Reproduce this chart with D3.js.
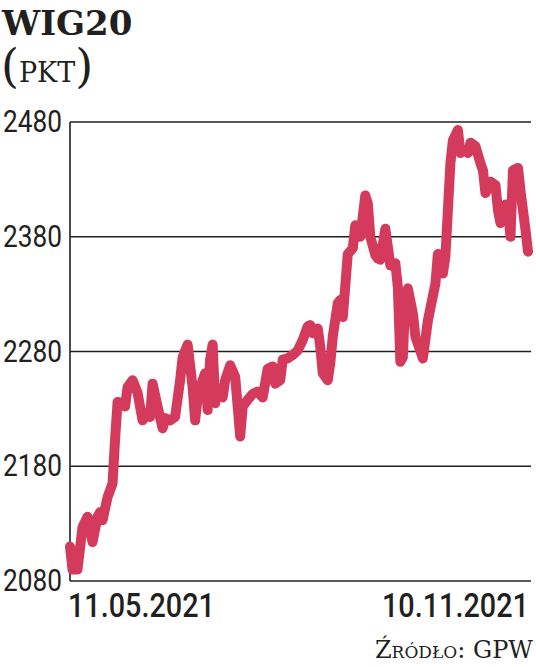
<!DOCTYPE html>
<html>
<head>
<meta charset="utf-8">
<script src="https://cdn.jsdelivr.net/npm/d3@7"></script>
<style>
  html, body { margin: 0; padding: 0; background: #fff; }
  svg { display: block; }
</style>
</head>
<body>
<svg id="chart" width="536" height="667"></svg>
<script>
// ---- data ----
const startDate = "2021-05-11";
const endDate = "2021-11-10";
// day offsets from start date
const days = [0,1,3,5,7,9,11,12,13,15,17,18,19,21,22,23,25,27,29,31,32,33,35,37,38,40,42,44,45,47,49,50,51,53,54,55,56,57,58,59,61,62,64,66,68,69,71,73,75,77,79,81,82,84,85,87,89,91,93,95,96,97,99,100,101,103,104,105,107,108,109,111,113,114,116,118,119,120,122,123,124,126,127,128,130,131,132,133,134,135,137,138,141,143,146,147,149,150,152,153,155,156,157,159,160,162,164,165,166,168,170,171,172,174,175,176,177,179,180,182,183];
const values = [2110,2090,2090,2127,2136,2114,2136,2140,2133,2153,2165,2203,2236,2235,2232,2249,2255,2244,2220,2227,2223,2252,2232,2213,2222,2220,2223,2255,2275,2286,2249,2220,2240,2255,2261,2229,2273,2286,2235,2249,2240,2255,2268,2258,2206,2232,2238,2243,2245,2240,2265,2267,2252,2255,2273,2274,2277,2281,2290,2302,2303,2296,2300,2284,2261,2255,2270,2293,2322,2325,2310,2365,2370,2390,2380,2416,2409,2380,2364,2361,2360,2387,2371,2355,2357,2336,2271,2275,2328,2335,2313,2293,2274,2307,2339,2365,2348,2363,2444,2464,2473,2453,2456,2453,2462,2459,2444,2438,2418,2428,2425,2403,2392,2408,2403,2380,2438,2440,2420,2386,2367];
const yTicks = [2080, 2180, 2280, 2380, 2480];
const xLabels = ["11.05.2021", "10.11.2021"];
const title = "WIG20";
const unit = "PKT";
const source = "Źródło: GPW";

// ---- layout ----
const svg = d3.select("#chart");
const plotLeft = 70, plotRight = 531, plotTop = 122, plotBottom = 581;
const lineRight = 528;

const parse = d3.utcParse("%Y-%m-%d");
const t0 = parse(startDate), t1 = parse(endDate);
const data = days.map((d, i) => ({ date: d3.utcDay.offset(t0, d), value: values[i] }));

const x = d3.scaleUtc().domain([t0, t1]).range([plotLeft, lineRight]);
const y = d3.scaleLinear().domain([2080, 2480]).range([plotBottom, plotTop]);

const ink = "#231f20";
const numFont = "Roboto, 'DejaVu Sans', sans-serif";
const serif = "'DejaVu Serif', 'Liberation Serif', serif";

// squeeze a text horizontally to a given width, anchored at its start (x0)
function condensed(g, str, x0, y0, width, size, weight) {
  const t = g.append("text")
    .attr("font-family", numFont)
    .attr("font-size", size)
    .attr("font-weight", weight)
    .attr("fill", ink)
    .text(str);
  const w = t.node().getComputedTextLength();
  t.attr("transform", `translate(${x0},${y0}) scale(${width / w},1)`);
  return t;
}

// gridlines
svg.append("g")
  .selectAll("line")
  .data(yTicks)
  .join("line")
  .attr("x1", plotLeft).attr("x2", plotRight)
  .attr("y1", d => y(d)).attr("y2", d => y(d))
  .attr("stroke", ink).attr("stroke-width", 1.6);

// left axis line
svg.append("line")
  .attr("x1", plotLeft).attr("x2", plotLeft)
  .attr("y1", y(2480)).attr("y2", y(2080))
  .attr("stroke", ink).attr("stroke-width", 1.6);

// y tick labels
const tickG = svg.append("g");
yTicks.forEach(v => condensed(tickG, String(v), 3, y(v) + 10, 59, 32, 400));

// the line
const line = d3.line().x(d => x(d.date)).y(d => y(d.value));
svg.append("path")
  .datum(data)
  .attr("d", line)
  .attr("fill", "none")
  .attr("stroke", "#d43a5c")
  .attr("stroke-width", 10)
  .attr("stroke-linejoin", "round")
  .attr("stroke-linecap", "round");

// x labels
const xg = svg.append("g");
condensed(xg, xLabels[0], 68, 617, 147, 33, 500);
condensed(xg, xLabels[1], 382, 617, 147, 33, 500);

// title
svg.append("text")
  .attr("x", 2).attr("y", 35)
  .attr("font-family", serif).attr("font-size", 34).attr("font-weight", "bold")
  .attr("fill", ink)
  .text(title);

const sub = svg.append("text")
  .attr("x", 1).attr("y", 82)
  .attr("font-family", serif).attr("fill", ink);
sub.append("tspan").attr("font-size", 46).text("(");
sub.append("tspan").attr("font-size", 27).text(unit);
sub.append("tspan").attr("font-size", 46).text(")");

// source
svg.append("text")
  .attr("x", 533).attr("y", 658)
  .attr("text-anchor", "end")
  .attr("font-family", serif).attr("font-size", 24)
  .attr("font-variant", "small-caps")
  .attr("fill", ink)
  .text(source);
</script>
</body>
</html>
